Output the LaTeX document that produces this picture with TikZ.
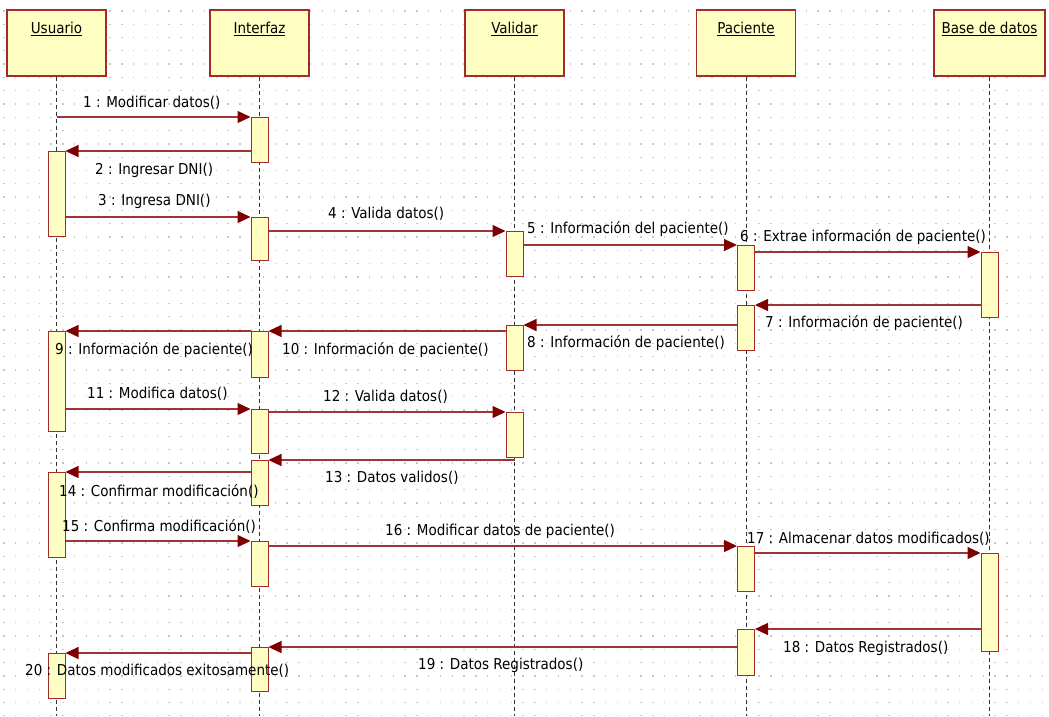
\documentclass[tikz,border=0pt]{standalone}
\usepackage{fontspec}
\setmainfont{DejaVu Sans Condensed}
\usepackage{xcolor}
\usetikzlibrary{arrows.meta, positioning, calc}

\definecolor{umlred}{HTML}{A52A2A}
\definecolor{umlfill}{HTML}{FFFFC4}
\definecolor{umlhead}{HTML}{7F0000}
\definecolor{umlline}{HTML}{A03434}

\tikzset{
  head/.style={draw=umlred, fill=umlfill, line width=1.2pt, minimum width=99pt, minimum height=66pt, inner sep=0pt},
  act/.style={draw=umlred, fill=umlfill, line width=1pt, minimum width=17pt, inner sep=0pt, anchor=north},
  life/.style={dash pattern=on 4pt off 3pt, line width=1pt, black!80},
  msg/.style={draw=umlline, line width=1.2pt, -{Triangle[length=13pt,width=12pt,color=umlhead,fill=umlhead]}},
  lbl/.style={anchor=west, inner sep=0pt, font=\fontsize{15}{15}\selectfont},
  griddot/.style={black!22, line width=1.3pt, dash pattern=on 1.3pt off 10.5pt}
}

% activation box: name, x, top, bottom
\newcommand{\actbox}[4]{\node[act, minimum height={(#4)-(#3)}] (#1) at (#2,#3) {};}

\begin{document}
\begin{tikzpicture}[x=1pt, y=-1pt]
  % lifeline x positions
  \def\xU{56.5}\def\xI{259.5}\def\xV{514.5}\def\xP{746}\def\xD{989.5}

  \fill[white] (0,0) rectangle (1049,716);
  \useasboundingbox (0,0) rectangle (1049,716);

  % dotted grid
  \foreach \r in {0,...,53}
    \draw[griddot] (3.2,{10.9+13.3*\r}) -- (1049,{10.9+13.3*\r});

  % objects
  \node[head] (usuario) at (\xU,43) {};
  \node[head] (interfaz) at (\xI,43) {};
  \node[head] (validar) at (\xV,43) {};
  \node[head] (paciente) at (\xP,43) {};
  \node[head, minimum width=111pt] (bd) at (\xD,43) {};
  \node[lbl, anchor=center] (usuario-t) at (\xU,29) {\underline{Usuario}};
  \node[lbl, anchor=center] (interfaz-t) at (\xI,29) {\underline{Interfaz}};
  \node[lbl, anchor=center] (validar-t) at (\xV,29) {\underline{Validar}};
  \node[lbl, anchor=center] (paciente-t) at (\xP,29) {\underline{Paciente}};
  \node[lbl, anchor=center] (bd-t) at (\xD,29) {\underline{Base de datos}};

  % lifelines
  \coordinate (bottom) at (0,716);
  \foreach \o in {usuario, interfaz, validar, paciente, bd}
    \draw[life] (\o.south) -- (\o.south |- bottom);

  % activations
  \actbox{i1}{\xI}{117}{162}
  \actbox{u1}{\xU}{151}{236}
  \actbox{i2}{\xI}{217}{260}
  \actbox{v1}{\xV}{231}{276}
  \actbox{p1}{\xP}{245}{290}
  \actbox{d1}{\xD}{252}{317}
  \actbox{p2}{\xP}{305}{350}
  \actbox{v2}{\xV}{325}{370}
  \actbox{i3}{\xI}{331}{377}
  \actbox{u2}{\xU}{331}{431}
  \actbox{i4}{\xI}{409}{453}
  \actbox{v3}{\xV}{412}{457}
  \actbox{i5}{\xI}{460}{505}
  \actbox{u3}{\xU}{472}{557}
  \actbox{i6}{\xI}{541}{586}
  \actbox{p3}{\xP}{546}{591}
  \actbox{d2}{\xD}{553}{651}
  \actbox{p4}{\xP}{629}{675}
  \actbox{i7}{\xI}{647}{691}
  \actbox{u4}{\xU}{653}{698}

  % messages
  \draw[msg] (usuario.south |- i1.north) -- (i1.north west);
  \draw[msg] (i1.west |- u1.north) -- (u1.north east);
  \draw[msg] (u1.east |- i2.north) -- (i2.north west);
  \draw[msg] (i2.east |- v1.north) -- (v1.north west);
  \draw[msg] (v1.east |- p1.north) -- (p1.north west);
  \draw[msg] (p1.east |- d1.north) -- (d1.north west);
  \draw[msg] (d1.west |- p2.north) -- (p2.north east);
  \draw[msg] (p2.west |- v2.north) -- (v2.north east);
  \draw[msg] (v2.west |- i3.north) -- (i3.north east);
  \draw[msg] (i3.west |- u2.north) -- (u2.north east);
  \draw[msg] (u2.east |- i4.north) -- (i4.north west);
  \draw[msg] (i4.east |- v3.north) -- (v3.north west);
  \draw[msg] (validar.south |- i5.north) -- (i5.north east);
  \draw[msg] (i5.west |- u3.north) -- (u3.north east);
  \draw[msg] (u3.east |- i6.north) -- (i6.north west);
  \draw[msg] (i6.east |- p3.north) -- (p3.north west);
  \draw[msg] (p3.east |- d2.north) -- (d2.north west);
  \draw[msg] (d2.west |- p4.north) -- (p4.north east);
  \draw[msg] (p4.west |- i7.north) -- (i7.north east);
  \draw[msg] (i7.west |- u4.north) -- (u4.north east);

  % message labels
  \node[lbl] (m1) at (83,103) {1 : Modificar datos()};
  \node[lbl] (m2) at (95,170) {2 : Ingresar DNI()};
  \node[lbl] (m3) at (98,201) {3 : Ingresa DNI()};
  \node[lbl] (m4) at (328,214) {4 : Valida datos()};
  \node[lbl] (m5) at (527,229) {5 : Información del paciente()};
  \node[lbl] (m6) at (740,237) {6 : Extrae información de paciente()};
  \node[lbl] (m7) at (765,323) {7 : Información de paciente()};
  \node[lbl] (m8) at (527,343) {8 : Información de paciente()};
  \node[lbl] (m9) at (55,350) {9 : Información de paciente()};
  \node[lbl] (m10) at (282,350) {10 : Información de paciente()};
  \node[lbl] (m11) at (87,394) {11 : Modifica datos()};
  \node[lbl] (m12) at (323,397) {12 : Valida datos()};
  \node[lbl] (m13) at (325,478) {13 : Datos validos()};
  \node[lbl] (m14) at (59,491) {14 : Confirmar modificación()};
  \node[lbl] (m15) at (62,526) {15 : Confirma modificación()};
  \node[lbl] (m16) at (385,531) {16 : Modificar datos de paciente()};
  \node[lbl] (m17) at (747,539) {17 : Almacenar datos modificados()};
  \node[lbl] (m18) at (783,648) {18 : Datos Registrados()};
  \node[lbl] (m19) at (418,665) {19 : Datos Registrados()};
  \node[lbl] (m20) at (25,671) {20 : Datos modificados exitosamente()};
\end{tikzpicture}
\end{document}
